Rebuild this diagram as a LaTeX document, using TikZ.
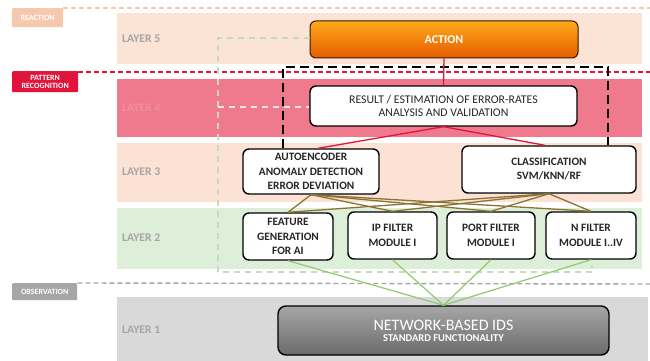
\documentclass[tikz,border=0pt]{standalone}
\usepackage{fontspec}
\setmainfont{Carlito}
\usetikzlibrary{calc}
\definecolor{peach}{HTML}{FBE3D6}
\definecolor{pinkband}{HTML}{EF7A8E}
\definecolor{peach3}{HTML}{FBE2D4}
\definecolor{greenband}{HTML}{DDEFD8}
\definecolor{grayband}{HTML}{D9D9D9}
\definecolor{reactc}{HTML}{F6C8AE}
\definecolor{patc}{HTML}{E2143C}
\definecolor{obsc}{HTML}{A6A6A6}
\definecolor{labgray}{HTML}{A5A5A5}
\definecolor{brownl}{HTML}{8B7332}
\definecolor{redl}{HTML}{E2143C}
\definecolor{greenl}{HTML}{8FCB6E}
\definecolor{gdash}{HTML}{C2DDB8}
\definecolor{boxtext}{HTML}{262626}
\tikzset{
  layerlab/.style={anchor=west,font=\bfseries\fontsize{11.7}{13}\selectfont,text=labgray,inner sep=0},
  phase/.style={anchor=north west,inner sep=0,text=white,font=\bfseries\fontsize{8}{8}\selectfont,align=center},
  wbox/.style={draw=black,line width=1.4pt,rounded corners=6pt,fill=white,align=center,text=boxtext,
    font=\bfseries\fontsize{11.3}{14.5}\selectfont,inner sep=0},
  redc/.style={draw=redl,line width=1.3pt},
  brownc/.style={draw=brownl,line width=1.3pt},
  greenc/.style={draw=greenl,line width=1.2pt},
}
\begin{document}
\begin{tikzpicture}[x=1pt,y=-1pt]
\useasboundingbox (0,0) rectangle (650,361);
\fill[white] (0,0) rectangle (650,361);
% bands
\fill[peach] (117,13) rectangle (642,64);
\fill[pinkband] (117,79) rectangle (642,137);
\fill[peach3] (117,143) rectangle (642,202);
\fill[greenband] (117,208) rectangle (642,269);
\fill[grayband] (117,297) rectangle (648,361);
% layer labels
\node[layerlab] (l5) at (122,39) {LAYER 5};
\node[layerlab,text=pinkband!85!white] (l4) at (122,108) {LAYER 4};
\node[layerlab] (l3) at (122,172) {LAYER 3};
\node[layerlab] (l2) at (122,238) {LAYER 2};
\node[layerlab] (l1) at (122,330) {LAYER 1};
% phase labels
\node[phase,fill=reactc,minimum width=51pt,minimum height=19pt,rounded corners=1pt] (react) at (12,8) {REACTION};
\node[phase,fill=patc,minimum width=66pt,minimum height=21pt,rounded corners=1pt] (patt) at (12,71) {PATTERN\\[-0.5pt]RECOGNITION};
\node[phase,fill=obsc,minimum width=65pt,minimum height=17pt,rounded corners=1pt] (obs) at (12,283) {OBSERVATION};
\coordinate (reactend) at (650,8);
\coordinate (pattend) at (650,72);
\coordinate (obsend) at (650,284);
\draw[reactc,line width=1.3pt,dash pattern=on 5pt off 3pt] (react.north east) -- (reactend);
\draw[patc,line width=1.5pt,dash pattern=on 5pt off 3pt] ($(patt.north east)+(0,1)$) -- (pattend);
\draw[obsc,line width=1.4pt,dash pattern=on 5pt off 3pt] (obs.north east) -- (obsend);
% nodes
\node[draw=black!80!orange,line width=1pt,rounded corners=6pt,top color=orange!75!yellow!90,bottom color=orange!80!red!90!black,
  minimum width=268pt,minimum height=37pt,text=white,font=\bfseries\fontsize{12}{14}\selectfont] (act) at (444,39.5) {ACTION};
\node[wbox,minimum width=267pt,minimum height=40pt,font=\fontsize{11.8}{13}\selectfont] (res) at (443.5,106) {RESULT / ESTIMATION OF ERROR-RATES\\ANALYSIS AND VALIDATION};
\node[wbox,minimum width=136pt,minimum height=45pt] (auto) at (311,171.5) {AUTOENCODER\\ANOMALY DETECTION\\ERROR DEVIATION};
\node[wbox,minimum width=174pt,minimum height=47pt,font=\bfseries\fontsize{11.3}{14}\selectfont] (cls) at (549,169.5) {CLASSIFICATION\\SVM/KNN/RF};
\node[wbox,minimum width=90pt,minimum height=47pt] (feat) at (288,236.5) {FEATURE\\GENERATION\\FOR AI};
\node[wbox,minimum width=89pt,minimum height=47pt] (ip) at (392.5,235.5) {IP FILTER\\MODULE I};
\node[wbox,minimum width=88pt,minimum height=47pt] (port) at (491,235.5) {PORT FILTER\\MODULE I};
\node[wbox,minimum width=90pt,minimum height=47pt] (nf) at (591,235.5) {N FILTER\\MODULE I..IV};
\node[draw=black,line width=1.4pt,rounded corners=8pt,top color=black!35,bottom color=black!58,
  minimum width=331pt,minimum height=49pt,text=white,align=center,inner sep=0] (ids) at (443.5,330.5)
  {{\fontsize{16}{17}\selectfont NETWORK-BASED IDS}\\[-1pt]{\bfseries\fontsize{10.5}{12}\selectfont STANDARD FUNCTIONALITY}};
% green dashed bracket
\coordinate (g1) at (218,38);
\coordinate (g2) at (218,272);
\coordinate (g3) at (592,272);
\coordinate (g4) at (592,265);
\coordinate (g5) at (218,107);
\draw[gdash,line width=1.2pt,dash pattern=on 6pt off 5pt] (act.west |- g1) -- (g1) -- (g2) -- (g3) -- (g4);
\draw[white!80!pinkband,line width=1.2pt,dash pattern=on 6pt off 5pt] (g5) -- (res.west |- g5);
% black dashed bracket
\coordinate (b1) at (283,67);
\coordinate (b2) at (608,67);
\draw[black,line width=1.6pt,dash pattern=on 9pt off 5pt] (auto.north -| b1) -- (b1) -- (b2) -- (cls.north -| b2);
% connectors
\draw[redc] (act.south) -- (res.north);
\draw[redc] (res.south) -- ($(auto.north)+(7,0)$);
\draw[redc] (res.south) -- ($(cls.north)+(-4,0)$);
\foreach \t in {feat,ip,port,nf}{
  \draw[brownc] (auto.south) -- (\t.north);
  \draw[brownc] (cls.south) -- (\t.north);
  \draw[greenc] (\t.south) -- (ids.north);
}
\end{tikzpicture}
\end{document}
